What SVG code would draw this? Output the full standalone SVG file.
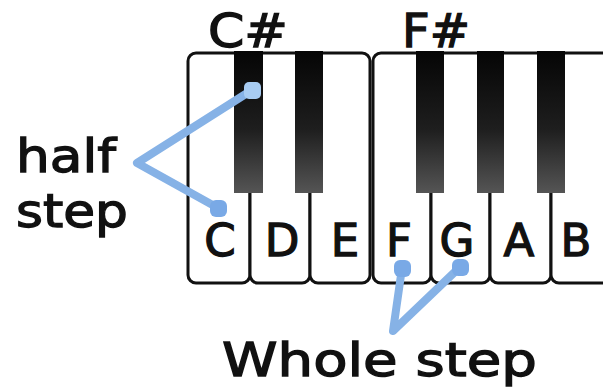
<svg xmlns="http://www.w3.org/2000/svg" width="603" height="387" viewBox="0 0 603 387">
  <style>
    .white { fill: #ffffff; stroke: #111111; stroke-width: 3; }
    .black { fill: url(#blackKey); }
    .label { font-family: "DejaVu Sans", "Liberation Sans", sans-serif; fill: #111111; stroke: #111111; stroke-width: 1.3; }
    .key { font-size: 45px; text-anchor: middle; }
    .big { font-size: 46px; }
    .link { fill: none; stroke: #86b2e6; stroke-width: 8; stroke-linecap: round; stroke-linejoin: round; }
    .dot { fill: #79a9e6; }
  </style>
  <defs>
    <linearGradient id="blackKey" x1="0" y1="0" x2="0" y2="1">
      <stop offset="0" stop-color="#050505"/>
      <stop offset="0.55" stop-color="#1e1e1e"/>
      <stop offset="1" stop-color="#555555"/>
    </linearGradient>
  </defs>
  <rect width="603" height="387" fill="#ffffff"/>

  <!-- white keys -->
  <g id="key-C"><rect class="white" x="188" y="53" width="62" height="230" rx="8"/></g>
  <g id="key-D"><rect class="white" x="250" y="53" width="60" height="230" rx="8"/></g>
  <g id="key-E"><rect class="white" x="310" y="53" width="60" height="230" rx="8"/></g>
  <g id="key-F"><rect class="white" x="373" y="53" width="58" height="230" rx="8"/></g>
  <g id="key-G"><rect class="white" x="431" y="53" width="59" height="230" rx="8"/></g>
  <g id="key-A"><rect class="white" x="490" y="53" width="61" height="230" rx="8"/></g>
  <g id="key-B"><rect class="white" x="551" y="53" width="61" height="230" rx="8"/></g>

  <!-- black keys -->
  <g id="key-Csharp"><rect class="black" x="234" y="51" width="29" height="142"/></g>
  <g id="key-Dsharp"><rect class="black" x="295" y="51" width="28" height="142"/></g>
  <g id="key-Fsharp"><rect class="black" x="416" y="51" width="28" height="142"/></g>
  <g id="key-Gsharp"><rect class="black" x="477" y="51" width="27" height="142"/></g>
  <g id="key-Asharp"><rect class="black" x="537" y="51" width="28" height="142"/></g>

  <!-- key letters -->
  <g id="key-letters" class="label key">
    <text x="220" y="256">C</text>
    <text x="282" y="256">D</text>
    <text x="345" y="256">E</text>
    <text x="399" y="256">F</text>
    <text x="457" y="256">G</text>
    <text x="519" y="256">A</text>
    <text x="576" y="256">B</text>
  </g>

  <!-- sharp labels -->
  <g id="label-Csharp"><text class="label big" x="208" y="47" textLength="80" lengthAdjust="spacingAndGlyphs">C#</text></g>
  <g id="label-Fsharp"><text class="label big" x="402" y="47" textLength="68" lengthAdjust="spacingAndGlyphs">F#</text></g>

  <!-- step labels -->
  <g id="label-half-step" class="label big">
    <text x="16" y="172" textLength="100" lengthAdjust="spacingAndGlyphs">half</text>
    <text x="16" y="227" textLength="112" lengthAdjust="spacingAndGlyphs">step</text>
  </g>
  <g id="label-whole-step"><text class="label big" x="222" y="376" textLength="315" lengthAdjust="spacingAndGlyphs">Whole step</text></g>

  <!-- connectors -->
  <g id="connectors">
    <polyline class="link" points="252,90 137,163 218,208"/>
    <polyline class="link" points="402,268 393,331 460,267"/>
    <rect x="244" y="82" width="17" height="17" rx="5" fill="#a8ccf2"/>
    <rect class="dot" x="210" y="200" width="17" height="17" rx="6"/>
    <rect class="dot" x="394" y="260" width="17" height="17" rx="6"/>
    <rect class="dot" x="452" y="259" width="17" height="17" rx="6"/>
  </g>
</svg>
